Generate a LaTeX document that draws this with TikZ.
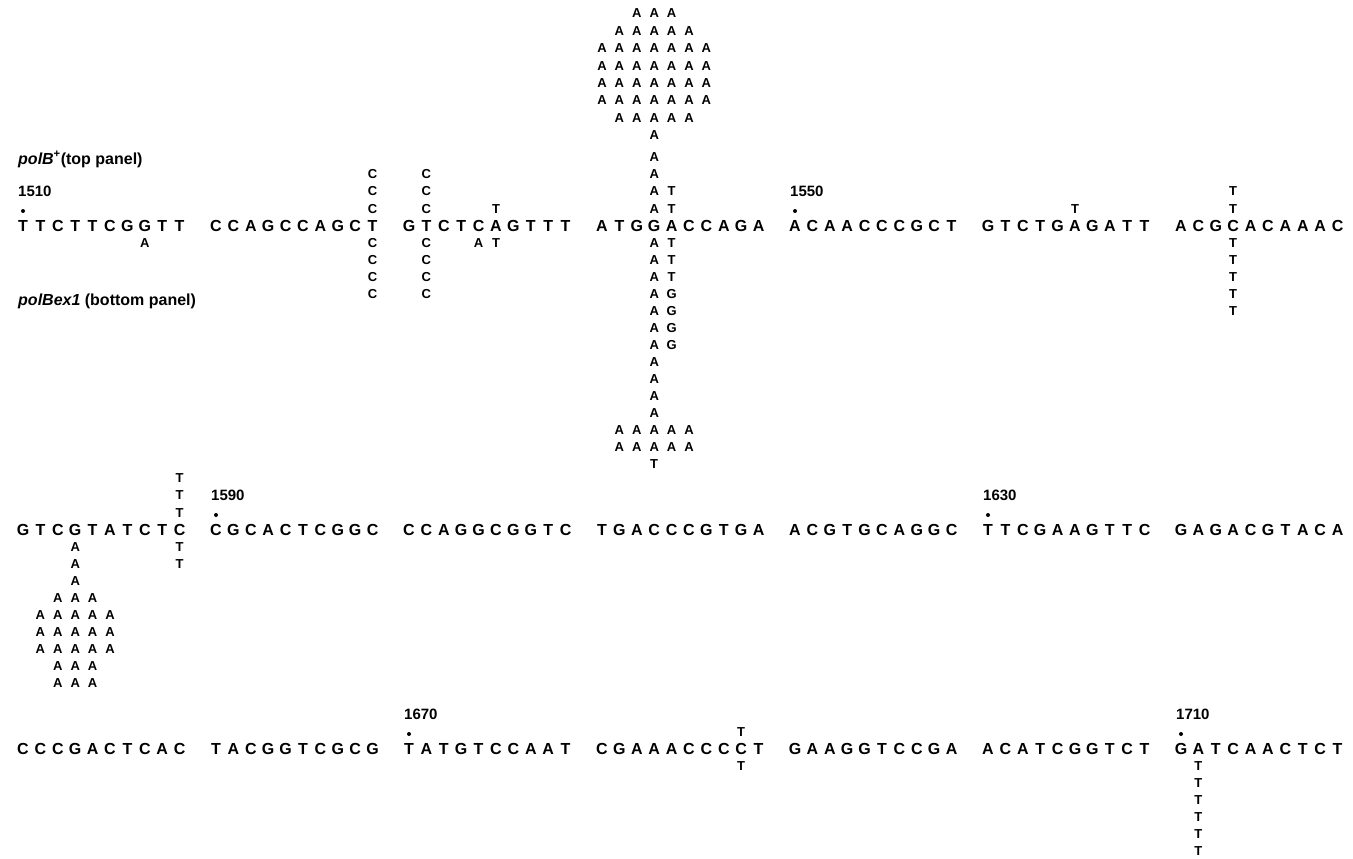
\documentclass[tikz,border=0pt]{standalone}
\usepackage{fontspec}
\setmainfont{Liberation Sans}
\usepackage{tikz}
\usetikzlibrary{positioning,calc}

% spacing of the letters
\newcommand{\gapx}{17.4}
\newcommand{\gapup}{17.4}
\newcommand{\gapdown}{17}

% one block of ten bases: row, y, block, bases
\newcommand{\seqblock}[4]{%
  \foreach \nt [count=\i] in {#4}
    \node[seqletter] (r#1b#3-\i) at ({23+193*(#3-1)+\gapx*(\i-1)},#2) {\nt};}

% changes above / below a base: base, column, first, last, letter
\newcommand{\upcol}[5]{%
  \foreach \q in {#3,...,#4}
    \node[mutletter] (#1u\q c#2) at ($(#1)+(#2*\gapx,\q*\gapup)$) {#5};}
\newcommand{\downcol}[5]{%
  \foreach \q in {#3,...,#4}
    \node[mutletter] (#1d\q c#2) at ($(#1)+(#2*\gapx,-\q*\gapdown)$) {#5};}
% a row of changes: base, level, first column, last column, letter
\newcommand{\uprow}[5]{%
  \foreach \j in {#3,...,#4}
    \node[mutletter] (#1u#2c\j) at ($(#1)+(\j*\gapx,#2*\gapup)$) {#5};}
\newcommand{\downrow}[5]{%
  \foreach \j in {#3,...,#4}
    \node[mutletter] (#1d#2c\j) at ($(#1)+(\j*\gapx,-#2*\gapdown)$) {#5};}

% position number with dot over a base
\newcommand{\poslabel}[2]{%
  \node[posdot] (#1dot) at ($(#1)+(0,15)$) {};
  \node[numlabel] (#1num) at ($(#1)+(-5,35)$) {#2};}

\begin{document}
\begin{tikzpicture}[x=1pt, y=1pt]
        % styles
        \tikzstyle{seqletter} = [font=\fontsize{16}{18}\selectfont\bfseries, inner sep=0pt, text height=11.5pt, text depth=0pt]
        \tikzstyle{mutletter} = [font=\fontsize{13}{15}\selectfont\bfseries, inner sep=0pt, text height=9.3pt, text depth=0pt]
        \tikzstyle{numlabel} = [font=\fontsize{15}{17}\selectfont\bfseries, anchor=west, inner sep=0pt, text height=10.7pt, text depth=0pt]
        \tikzstyle{panellabel} = [font=\fontsize{16}{18}\selectfont\bfseries, anchor=base west, inner sep=0pt]
        \tikzstyle{posdot} = [circle, fill=black, inner sep=0pt, minimum size=4pt]

        \path[fill=white] (0,0) rectangle (1353,-859);
        \useasboundingbox (0,0) rectangle (1353,-859);

        % panel labels
        \node[panellabel] (toppanel) at (18,-164) {\textit{polB}\textsuperscript{+}(top panel)};
        \node[panellabel] (bottompanel) at (18,-305) {\textit{polBex1} (bottom panel)};

        % row 1
        \seqblock{1}{-226}{1}{T,T,C,T,T,C,G,G,T,T}
        \seqblock{1}{-226}{2}{C,C,A,G,C,C,A,G,C,T}
        \seqblock{1}{-226}{3}{G,T,C,T,C,A,G,T,T,T}
        \seqblock{1}{-226}{4}{A,T,G,G,A,C,C,A,G,A}
        \seqblock{1}{-226}{5}{A,C,A,A,C,C,C,G,C,T}
        \seqblock{1}{-226}{6}{G,T,C,T,G,A,G,A,T,T}
        \seqblock{1}{-226}{7}{A,C,G,C,A,C,A,A,A,C}
        \poslabel{r1b1-1}{1510}
        \poslabel{r1b5-1}{1550}

        % row 1 changes
        \downcol{r1b1-8}{0}{1}{1}{A}
        \upcol{r1b2-10}{0}{1}{3}{C}
        \downcol{r1b2-10}{0}{1}{4}{C}
        \upcol{r1b3-2}{0}{1}{3}{C}
        \downcol{r1b3-2}{0}{1}{4}{C}
        \upcol{r1b3-6}{0}{1}{1}{T}
        \downcol{r1b3-5}{0}{1}{1}{A}
        \downcol{r1b3-6}{0}{1}{1}{T}
        \upcol{r1b4-4}{0}{1}{4}{A}
        \upcol{r1b4-4}{1}{1}{2}{T}
        % the pile over G, a little apart
        \coordinate (r1pile) at ($(r1b4-4)+(0,91)$);
        \upcol{r1pile}{0}{0}{0}{A}
        \uprow{r1pile}{1}{-2}{2}{A}
        \foreach \lv in {2,...,5} {\uprow{r1pile}{\lv}{-3}{3}{A}}
        \uprow{r1pile}{6}{-2}{2}{A}
        \uprow{r1pile}{7}{-1}{1}{A}
        \downcol{r1b4-4}{0}{1}{11}{A}
        \downcol{r1b4-4}{1}{1}{3}{T}
        \downcol{r1b4-4}{1}{4}{7}{G}
        \downrow{r1b4-4}{12}{-2}{2}{A}
        \downrow{r1b4-4}{13}{-2}{2}{A}
        \downcol{r1b4-4}{0}{14}{14}{T}
        \upcol{r1b6-6}{0}{1}{1}{T}
        \upcol{r1b7-4}{0}{1}{2}{T}
        \downcol{r1b7-4}{0}{1}{5}{T}

        % row 2
        \seqblock{2}{-530}{1}{G,T,C,G,T,A,T,C,T,C}
        \seqblock{2}{-530}{2}{C,G,C,A,C,T,C,G,G,C}
        \seqblock{2}{-530}{3}{C,C,A,G,G,C,G,G,T,C}
        \seqblock{2}{-530}{4}{T,G,A,C,C,C,G,T,G,A}
        \seqblock{2}{-530}{5}{A,C,G,T,G,C,A,G,G,C}
        \seqblock{2}{-530}{6}{T,T,C,G,A,A,G,T,T,C}
        \seqblock{2}{-530}{7}{G,A,G,A,C,G,T,A,C,A}
        \poslabel{r2b2-1}{1590}
        \poslabel{r2b6-1}{1630}

        % row 2 changes
        \upcol{r2b1-10}{0}{1}{3}{T}
        \downcol{r2b1-10}{0}{1}{2}{T}
        \downcol{r2b1-4}{0}{1}{3}{A}
        \downrow{r2b1-4}{4}{-1}{1}{A}
        \foreach \lv in {5,...,7} {\downrow{r2b1-4}{\lv}{-2}{2}{A}}
        \downrow{r2b1-4}{8}{-1}{1}{A}
        \downrow{r2b1-4}{9}{-1}{1}{A}

        % row 3
        \seqblock{3}{-749}{1}{C,C,C,G,A,C,T,C,A,C}
        \seqblock{3}{-749}{2}{T,A,C,G,G,T,C,G,C,G}
        \seqblock{3}{-749}{3}{T,A,T,G,T,C,C,A,A,T}
        \seqblock{3}{-749}{4}{C,G,A,A,A,C,C,C,C,T}
        \seqblock{3}{-749}{5}{G,A,A,G,G,T,C,C,G,A}
        \seqblock{3}{-749}{6}{A,C,A,T,C,G,G,T,C,T}
        \seqblock{3}{-749}{7}{G,A,T,C,A,A,C,T,C,T}
        \poslabel{r3b3-1}{1670}
        \poslabel{r3b7-1}{1710}

        % row 3 changes
        \upcol{r3b4-9}{0}{1}{1}{T}
        \downcol{r3b4-9}{0}{1}{1}{T}
        \downcol{r3b7-2}{0}{1}{6}{T}
    \end{tikzpicture}
\end{document}
